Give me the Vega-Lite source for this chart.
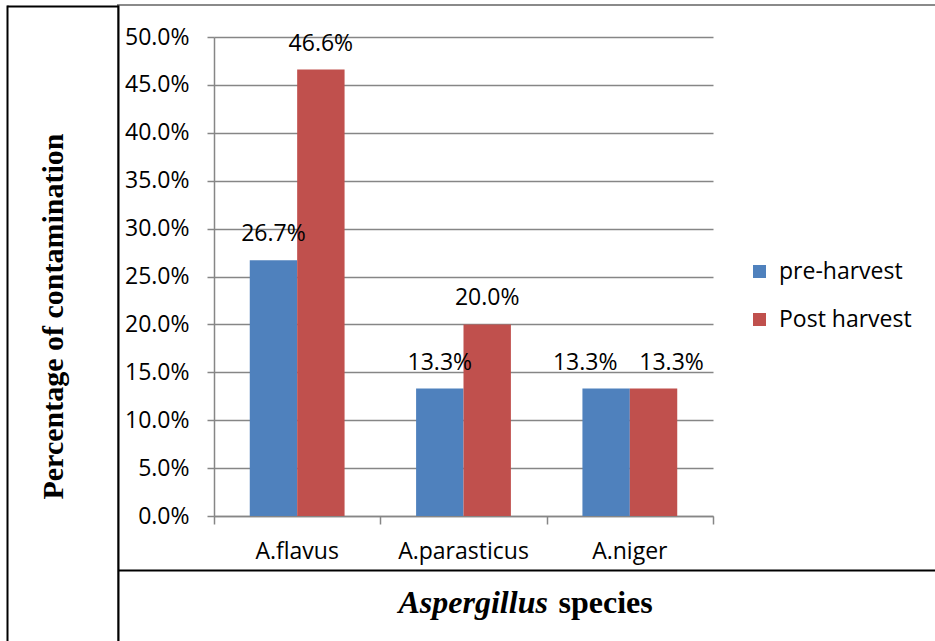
{
  "$schema": "https://vega.github.io/schema/vega-lite/v6.json",
  "width": 820,
  "height": 640,
  "autosize": {"type": "none"},
  "padding": {"left": 118, "top": 5, "right": 0, "bottom": 0},
  "background": "white",
  "config": {
    "font": "Open Sans",
    "view": {"stroke": "#8a8a8a", "strokeWidth": 2},
    "axis": {"labelColor": "#000000", "titleColor": "#000000"}
  },
  "data": {
    "values": [
      {"species": "A.flavus", "period": "pre-harvest", "value": 0.267},
      {"species": "A.flavus", "period": "Post harvest", "value": 0.466},
      {"species": "A.parasticus", "period": "pre-harvest", "value": 0.133},
      {"species": "A.parasticus", "period": "Post harvest", "value": 0.2},
      {"species": "A.niger", "period": "pre-harvest", "value": 0.133},
      {"species": "A.niger", "period": "Post harvest", "value": 0.133}
    ]
  },
  "resolve": {"scale": {"x": "independent", "y": "independent"}},
  "layer": [
    {
      "encoding": {
        "x": {
          "field": "species",
          "type": "nominal",
          "sort": ["A.flavus", "A.parasticus", "A.niger"],
          "scale": {"range": [96, 595], "paddingInner": 0.43, "paddingOuter": 0.215},
          "axis": {
            "orient": "bottom",
            "offset": -129,
            "domainColor": "#868686",
            "domainWidth": 1.5,
            "ticks": false,
            "labelAngle": 0,
            "labelFont": "Open Sans",
            "labelFontSize": 23,
            "labelPadding": 42,
            "labelBaseline": "alphabetic",
            "title": "species",
            "titleFont": "Liberation Serif",
            "titleFontWeight": "bold",
            "titleFontSize": 32,
            "titleX": 440,
            "titleY": 96,
            "titleAlign": "left",
            "titleBaseline": "alphabetic"
          }
        },
        "xOffset": {
          "field": "period",
          "type": "nominal",
          "sort": ["pre-harvest", "Post harvest"],
          "scale": {"paddingInner": 0, "paddingOuter": 0}
        },
        "y": {
          "field": "value",
          "type": "quantitative",
          "scale": {"domain": [0, 0.5], "range": [511, 32], "nice": false},
          "axis": {
            "orient": "left",
            "offset": -96,
            "values": [0, 0.05, 0.1, 0.15, 0.2, 0.25, 0.3, 0.35, 0.4, 0.45, 0.5],
            "format": ".1%",
            "grid": true,
            "gridColor": "#868686",
            "gridWidth": 1.5,
            "domainColor": "#868686",
            "domainWidth": 1.5,
            "tickColor": "#868686",
            "tickWidth": 1.5,
            "tickSize": 7,
            "labelPadding": 18,
            "labelFont": "Open Sans",
            "labelFontSize": 23,
            "title": null
          }
        }
      },
      "layer": [
        {
          "mark": {"type": "bar"},
          "encoding": {
            "color": {
              "field": "period",
              "type": "nominal",
              "sort": ["pre-harvest", "Post harvest"],
              "scale": {"domain": ["pre-harvest", "Post harvest"], "range": ["#4F81BD", "#C0504D"]},
              "legend": {
                "title": null,
                "orient": "none",
                "legendX": 630,
                "legendY": 255,
                "padding": 0,
                "symbolType": "square",
                "symbolSize": 169,
                "symbolStrokeWidth": 0,
                "labelFont": "Open Sans",
                "labelFontSize": 23,
                "labelColor": "#000000",
                "labelOffset": 8,
                "rowPadding": 24
              }
            }
          }
        },
        {
          "mark": {
            "type": "text",
            "dy": -19,
            "dx": {"expr": "datum.species === 'A.niger' ? (datum.period === 'pre-harvest' ? -21 : 18) : 0"},
            "baseline": "alphabetic",
            "align": "center",
            "font": "Open Sans",
            "fontSize": 23,
            "color": "#000000"
          },
          "encoding": {
            "text": {"field": "value", "type": "quantitative", "format": ".1%"}
          }
        }
      ]
    },
    {
      "mark": {"type": "point", "opacity": 0},
      "encoding": {
        "x": {
          "field": "value",
          "type": "quantitative",
          "scale": {"domain": [0, 3], "range": [96, 595], "nice": false, "zero": false},
          "axis": {
            "orient": "bottom",
            "offset": -129,
            "values": [0, 1, 2, 3],
            "domain": false,
            "labels": false,
            "grid": false,
            "tickColor": "#868686",
            "tickWidth": 1.5,
            "tickSize": 8,
            "title": null
          }
        }
      }
    },
    {
      "mark": {"type": "point", "opacity": 0},
      "encoding": {
        "x": {
          "field": "value",
          "type": "quantitative",
          "axis": {
            "orient": "bottom",
            "offset": -75,
            "domainColor": "#000000",
            "domainWidth": 2,
            "ticks": false,
            "labels": false,
            "grid": false,
            "title": "Aspergillus",
            "titleFont": "Liberation Serif",
            "titleFontStyle": "italic",
            "titleFontWeight": "bold",
            "titleFontSize": 32,
            "titleX": 280,
            "titleY": 42,
            "titleAlign": "left",
            "titleBaseline": "alphabetic"
          }
        },
        "y": {
          "field": "value",
          "type": "quantitative",
          "axis": {
            "orient": "left",
            "offset": 0,
            "domainColor": "#000000",
            "domainWidth": 2,
            "ticks": false,
            "labels": false,
            "grid": false,
            "title": null
          }
        }
      }
    },
    {
      "mark": {"type": "point", "opacity": 0},
      "encoding": {
        "x": {
          "field": "value",
          "type": "quantitative",
          "scale": {"range": [-111, 0]},
          "axis": {
            "orient": "top",
            "offset": -1,
            "domainColor": "#000000",
            "domainWidth": 2,
            "ticks": false,
            "labels": false,
            "grid": false,
            "title": null
          }
        },
        "y": {
          "field": "value",
          "type": "quantitative",
          "axis": {
            "orient": "left",
            "offset": 111,
            "domainColor": "#000000",
            "domainWidth": 2,
            "ticks": false,
            "labels": false,
            "grid": false,
            "title": "Percentage of contamination",
            "titleFont": "Liberation Serif",
            "titleFontWeight": "bold",
            "titleFontSize": 30,
            "titleAngle": -90,
            "titleX": 55,
            "titleY": 311,
            "titleAlign": "center",
            "titleBaseline": "alphabetic"
          }
        }
      }
    }
  ]
}
